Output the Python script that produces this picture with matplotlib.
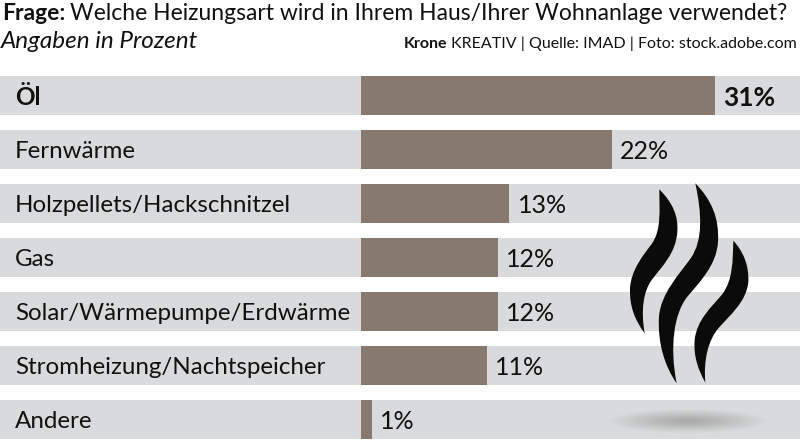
import numpy as np
import matplotlib
matplotlib.use('Agg')
import matplotlib.pyplot as plt
from matplotlib.path import Path
from matplotlib.patches import PathPatch

plt.rcParams['font.family'] = ['Lato', 'DejaVu Sans']

labels = ['Öl', 'Fernwärme', 'Holzpellets/Hackschnitzel', 'Gas',
          'Solar/Wärmepumpe/Erdwärme', 'Stromheizung/Nachtspeicher', 'Andere']
values = [31, 22, 13, 12, 12, 11, 1]

band_color = '#d9dadb'
bar_color = '#877970'
text_color = '#111111'

px_per_pct = 11.42
x0 = 361
row = 54
first = 95.5
text_shift = 2 / row

fig = plt.figure(figsize=(8, 4.4), dpi=100)
ax = fig.add_axes([0, 0, 1, 1])
ax.set_xlim(-x0 / px_per_pct, (800 - x0) / px_per_pct)
ax.set_ylim((440 - first) / row, -first / row)
ax.axis('off')

pos = np.arange(len(values))
ax.barh(pos, [800 / px_per_pct] * len(pos), left=-x0 / px_per_pct, height=39 / row, color=band_color)
ax.barh(pos, values, height=39 / row, color=bar_color)

for i, (lab, v) in enumerate(zip(labels, values)):
    w = 'bold' if i == 0 else 'normal'
    ax.text(15 / px_per_pct - x0 / px_per_pct, i + text_shift, lab, fontsize=17.4, fontweight=w,
            va='center', ha='left', color=text_color)
    ax.text(v + 8 / px_per_pct, i + text_shift, f'{v}%', fontsize=19 if i == 0 else 18, fontweight=w,
            va='center', ha='left', color=text_color)

# overlay in pixels for the steam icon
ov = fig.add_axes([0, 0, 1, 1])
ov.axis('off')
ov.patch.set_alpha(0)

# shadow
xx, yy = np.meshgrid(np.linspace(-1.3, 1.3, 240), np.linspace(-1.3, 1.3, 60))
rr = np.sqrt(xx ** 2 + yy ** 2)
alpha = np.clip(1.15 - rr, 0, 1) * 0.42
shadow = np.zeros(rr.shape + (4,))
shadow[..., :3] = 0.42
shadow[..., 3] = alpha
ov.imshow(shadow, extent=(688 - 92, 688 + 92, 421 + 14, 421 - 14), aspect='auto', zorder=2)
ov.set_xlim(0, 800)
ov.set_ylim(440, 0)


def flame(pts):
    codes = [Path.MOVETO] + [Path.CURVE4] * (len(pts) - 1) + [Path.CLOSEPOLY]
    verts = [(600 + x / 3, 170 + y / 3) for x, y in pts] + [(0, 0)]
    ov.add_patch(PathPatch(Path(verts, codes), facecolor='#0b0b0b', edgecolor='none', zorder=3))


flame([(178, 58), (220, 100), (235, 140), (232, 185),
       (228, 250), (185, 290), (155, 330),
       (130, 365), (122, 420), (134, 490),
       (105, 450), (88, 410), (90, 355),
       (93, 300), (130, 255), (155, 222),
       (185, 180), (178, 120), (178, 58)])
flame([(286, 40), (335, 90), (358, 145), (354, 215),
       (350, 285), (300, 335), (262, 380),
       (222, 430), (208, 530), (230, 640),
       (195, 590), (172, 520), (177, 440),
       (182, 370), (240, 310), (272, 265),
       (310, 210), (305, 130), (286, 40)])
flame([(400, 212), (430, 245), (447, 285), (445, 335),
       (440, 395), (390, 435), (355, 475),
       (325, 510), (310, 570), (316, 638),
       (295, 600), (280, 560), (284, 510),
       (290, 450), (335, 410), (365, 375),
       (400, 330), (398, 270), (400, 212)])

# header
t = ov.text(2, 13, 'Frage:', fontsize=16.5, fontweight='bold', va='center', ha='left', color=text_color)
fig.canvas.draw()
bb = t.get_window_extent()
ov.text(bb.x1 + 5, 13, 'Welche Heizungsart wird in Ihrem Haus/Ihrer Wohnanlage verwendet?',
        fontsize=16.5, va='center', ha='left', color=text_color)
ov.text(1, 42, 'Angaben in Prozent', fontsize=17.5, style='italic', va='center', ha='left', color=text_color)
t2 = ov.text(797, 44, 'KREATIV | Quelle: IMAD | Foto: stock.adobe.com', fontsize=11.5,
             va='center', ha='right', color=text_color)
fig.canvas.draw()
bb2 = t2.get_window_extent()
ov.text(bb2.x0 - 4, 44, 'Krone', fontsize=11.5, fontweight='bold', va='center', ha='right', color=text_color)

fig.savefig('out.png', dpi=100)
